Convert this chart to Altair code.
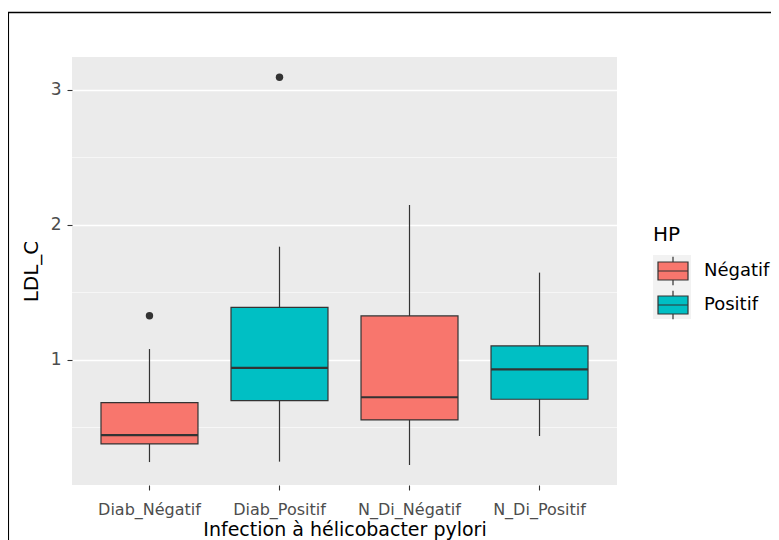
import altair as alt
import pandas as pd

# ---- data ----
categories = ["Diab_Négatif", "Diab_Positif", "N_Di_Négatif", "N_Di_Positif"]
hp_group = ["Négatif", "Positif", "Négatif", "Positif"]
whisker_low = [0.244, 0.247, 0.222, 0.437]
q1 = [0.378, 0.699, 0.556, 0.709]
median = [0.444, 0.941, 0.724, 0.931]
q3 = [0.684, 1.390, 1.326, 1.104]
whisker_high = [1.081, 1.839, 2.148, 1.647]
outlier_cat = ["Diab_Négatif", "Diab_Positif"]
outlier_val = [1.328, 3.094]
y_breaks = [1, 2, 3]
y_minor = [0.5, 1.5, 2.5]
hp_levels = ["Négatif", "Positif"]
hp_colors = ["#F8766D", "#00BFC4"]

stats = pd.DataFrame({
    "Groupe": categories, "HP": hp_group, "low": whisker_low, "q1": q1,
    "median": median, "q3": q3, "high": whisker_high,
})
outliers = pd.DataFrame({"Groupe": outlier_cat, "LDL_C": outlier_val})
minor = pd.DataFrame({"v": y_minor})
one = pd.DataFrame({"k": [0]})

W, H = 545, 428
FONT = "DejaVu Sans"
DARK = "#333333"
XT = "Infection à hélicobacter pylori"
YT = "LDL_C"

x_scale = alt.Scale(domain=categories, paddingInner=0.254, paddingOuter=0.223)
y_scale = alt.Scale(domain=[0.074, 3.244], nice=False, zero=False)

x_axis = alt.Axis(
    bandPosition=0.5, domain=False, tickColor=DARK, tickSize=5, tickWidth=1.1,
    labelColor="#4D4D4D", labelFontSize=16, labelPadding=24, labelAngle=0,
    labelBaseline="alphabetic",
    gridColor="white", gridWidth=1.6,
    titleFontSize=19, titleFontWeight="normal", titleColor="black",
    titleBaseline="alphabetic", titleY=50.5,
)
y_axis = alt.Axis(
    values=y_breaks, domain=False, tickColor=DARK, tickSize=5, tickWidth=1.1,
    labelColor="#4D4D4D", labelFontSize=17, labelPadding=6,
    gridColor="white", gridWidth=1.6,
    titleFontSize=20, titleFontWeight="normal", titleColor="black",
    titleBaseline="alphabetic", titleX=-34.7, titleY=214,
)


def X():
    return alt.X("Groupe:N", scale=x_scale, sort=categories, axis=x_axis, title=XT)


def Y(field):
    return alt.Y(f"{field}:Q", scale=y_scale, axis=y_axis, title=YT)


minor_grid = alt.Chart(minor).mark_rule(color="#FAFAFA", strokeWidth=0.8).encode(
    y=Y("v"), x=alt.value(0), x2=alt.value(W)
)

whiskers = alt.Chart(stats).mark_rule(color=DARK, strokeWidth=1.2).encode(
    x=X(), y=Y("low"), y2="high"
)

box_path = "M-1,-0.6H1V0.6H-1Z M-1,0H1 M0,-0.6V-0.95 M0,0.6V0.95"

boxes = alt.Chart(stats).mark_bar(stroke=DARK, strokeWidth=1.2).encode(
    x=X(), y=Y("q1"), y2="q3",
    fill=alt.Fill(
        "HP:N",
        scale=alt.Scale(domain=hp_levels, range=hp_colors),
        legend=alt.Legend(
            title="HP", orient="none", legendX=581, legendY=168,
            symbolType=box_path, symbolSize=900, symbolStrokeColor=DARK,
            symbolStrokeWidth=1.2, symbolOpacity=1, symbolOffset=4,
            labelFontSize=18, labelColor="black", labelOffset=15, labelFont=FONT,
            titleFontSize=20, titleFontWeight="normal", titleColor="black",
            titleFont=FONT, titlePadding=10, rowPadding=0, padding=0,
        ),
    ),
)

medians = alt.Chart(stats).mark_tick(
    orient="horizontal", size=97, thickness=2.2, color=DARK, opacity=1
).encode(x=X(), y=Y("median"))

points = alt.Chart(outliers).mark_circle(size=55, color=DARK, opacity=1).encode(
    x=X(), y=Y("LDL_C")
)

key_bg = alt.Chart(one).mark_rect(color="#F2F2F2").encode(
    x=alt.value(581), x2=alt.value(619), y=alt.value(198), y2=alt.value(262)
)

frame_left = alt.Chart(one).mark_rule(color="black", strokeWidth=1.7).encode(
    x=alt.value(-63.8), y=alt.value(-45), y2=alt.value(490)
)
frame_top = alt.Chart(one).mark_rule(color="black", strokeWidth=1.7).encode(
    x=alt.value(-64.6), x2=alt.value(710), y=alt.value(-44.5)
)

chart = alt.layer(
    minor_grid, whiskers, boxes, medians, points, key_bg, frame_left, frame_top
).properties(
    width=W, height=H,
    autosize=alt.AutoSizeParams(type="none"),
    padding={"left": 64, "top": 49, "right": 154, "bottom": 55},
    background="white",
).configure(font=FONT).configure_view(fill="#EBEBEB", stroke=None)

chart.save("out.html", embed_options={"renderer": "svg", "actions": False})
